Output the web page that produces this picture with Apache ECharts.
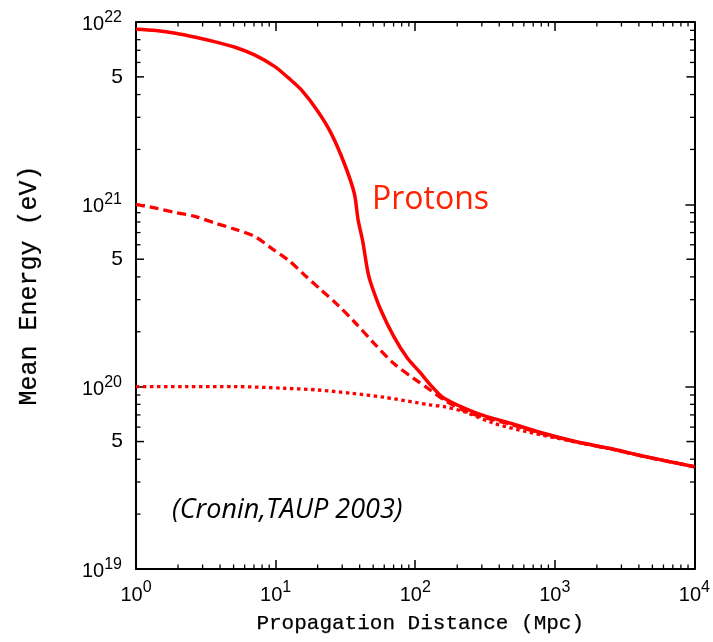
<!DOCTYPE html>
<html>
<head>
<meta charset="utf-8">
<script src="https://cdn.jsdelivr.net/npm/echarts@6/dist/echarts.min.js"></script>
<style>
  html, body { margin: 0; padding: 0; background: #fff; }
  #chart { width: 713px; height: 642px; }
</style>
</head>
<body>
<div id="chart"></div>
<script>
// Mean proton energy versus propagation distance, for three injection energies.
// Distances in Mpc, energies in eV.
const solidDist = [1, 1.39, 1.92, 2.67, 3.70, 5.13, 7.12, 9.88, 12.3, 15.3, 20.1, 25.0, 31.0, 36.6, 39.0, 41.9, 45.5, 48.1, 56.6, 70.3, 87.5, 109, 132, 161, 278, 480, 828, 1429, 2461, 4249, 10000];
const solidEnergy = [9.12e21, 8.97e21, 8.68e21, 8.25e21, 7.78e21, 7.27e21, 6.58e21, 5.69e21, 4.95e21, 4.24e21, 3.23e21, 2.45e21, 1.68e21, 1.15e21, 8.2e20, 6.38e20, 4.36e20, 3.69e20, 2.64e20, 1.88e20, 1.44e20, 1.19e20, 1.0e20, 8.63e19, 7.14e19, 6.30e19, 5.55e19, 4.99e19, 4.59e19, 4.17e19, 3.64e19];

const dashedDist = [1, 1.39, 1.92, 2.67, 3.70, 5.13, 7.12, 9.36, 12.3, 16.1, 21.2, 27.8, 36.6, 50.7, 70.3, 97.5, 128, 161, 249, 480, 828, 1429, 2461, 4249, 10000];
const dashedEnergy = [1.0e21, 9.52e20, 9.01e20, 8.57e20, 7.88e20, 7.30e20, 6.65e20, 5.74e20, 4.95e20, 4.10e20, 3.39e20, 2.81e20, 2.27e20, 1.73e20, 1.34e20, 1.11e20, 9.59e19, 8.45e19, 7.14e19, 6.22e19, 5.50e19, 4.97e19, 4.58e19, 4.16e19, 3.64e19];

const dottedDist = [1, 2.27, 5.13, 11.6, 20.1, 34.7, 59.7, 103, 128, 161, 224, 365, 630, 1429, 2461, 4249, 10000];
const dottedEnergy = [1.0e20, 1.0e20, 1.0e20, 9.8e19, 9.59e19, 9.2e19, 8.75e19, 8.17e19, 7.94e19, 7.77e19, 7.29e19, 6.30e19, 5.66e19, 4.96e19, 4.57e19, 4.16e19, 3.64e19];

// Axis ranges and the intermediate "5" labels on the energy axis
const xRange = [1, 1e4];
const yRange = [1e19, 1e22];
const yFiveLabels = [5e19, 5e20, 5e21];

// Minor tick positions (2..9 within every decade)
function minorTicks(lo, hi) {
  const out = [];
  for (let d = lo; d < hi; d *= 10) {
    for (let m = 2; m <= 9; m++) out.push(m * d);
  }
  return out;
}
const xMinor = minorTicks(xRange[0], xRange[1]);
const yMinor = minorTicks(yRange[0], yRange[1]);

const pair = (xs, ys) => xs.map((x, i) => [x, ys[i]]);

const RED = '#ff0000';
const TICK_FONT = '"Liberation Sans", Arial, sans-serif';
const TITLE_FONT = '"Liberation Mono", "Courier New", monospace';

const supLabel = {
  formatter: v => '{b|10}{s|' + Math.round(Math.log10(v)) + '}',
  rich: {
    b: { fontSize: 20, fontFamily: TICK_FONT, color: '#000', verticalAlign: 'bottom' },
    s: { fontSize: 16, fontFamily: TICK_FONT, color: '#000', verticalAlign: 'bottom', padding: [0, 0, 9, 0] }
  }
};

const frameLine = { show: true, lineStyle: { color: '#000', width: 2 } };
const majorTick = { show: true, inside: true, length: 9, lineStyle: { color: '#000', width: 1.5 } };

const chart = echarts.init(document.getElementById('chart'), null, { renderer: 'canvas' });

chart.setOption({
  animation: false,
  backgroundColor: '#fff',
  grid: { left: 136, right: 14, top: 22, bottom: 73 },
  xAxis: [
    {
      type: 'log', logBase: 10, min: xRange[0], max: xRange[1],
      position: 'bottom',
      axisLine: frameLine, axisTick: majorTick, splitLine: { show: false },
      axisLabel: Object.assign({ margin: 11 }, supLabel),
      name: 'Propagation Distance (Mpc)', nameLocation: 'middle', nameGap: 44,
      nameTextStyle: { fontFamily: TITLE_FONT, fontSize: 21, color: '#000', textBorderColor: '#000', textBorderWidth: 0.25, padding: [0, 0, 0, 10] }
    },
    {
      type: 'log', logBase: 10, min: xRange[0], max: xRange[1],
      position: 'top',
      axisLine: frameLine, axisTick: majorTick, splitLine: { show: false },
      axisLabel: { show: false }
    }
  ],
  yAxis: [
    {
      type: 'log', logBase: 10, min: yRange[0], max: yRange[1],
      position: 'left',
      axisLine: frameLine, axisTick: majorTick, splitLine: { show: false },
      axisLabel: Object.assign({ margin: 14 }, supLabel),
      name: 'Mean Energy (eV)', nameLocation: 'middle', nameGap: 94,
      nameTextStyle: { fontFamily: TITLE_FONT, fontSize: 25, color: '#000', textBorderColor: '#000', textBorderWidth: 0.25, padding: [0, 0, 0, 20] }
    },
    {
      type: 'log', logBase: 10, min: yRange[0], max: yRange[1],
      position: 'right',
      axisLine: frameLine, axisTick: majorTick, splitLine: { show: false },
      axisLabel: { show: false }
    }
  ],
  graphic: [
    {
      type: 'text', left: 372, top: 184, z: 10,
      style: { text: 'Protons', fill: '#ff2200', font: '32px "Open Sans", Lato, sans-serif' }
    },
    {
      type: 'text', left: 172, top: 497, z: 10,
      style: { text: '(Cronin,TAUP 2003)', fill: '#000', font: 'italic 27px "Open Sans", Lato, sans-serif' }
    }
  ],
  series: [
    {
      name: 'E0 1e22 eV', type: 'line', data: pair(solidDist, solidEnergy),
      showSymbol: false, smooth: 0.3, z: 5,
      lineStyle: { color: RED, width: 3.5 }
    },
    {
      name: 'E0 1e21 eV', type: 'line', data: pair(dashedDist, dashedEnergy),
      showSymbol: false, smooth: 0.3, z: 5,
      lineStyle: { color: RED, width: 3.3, type: [9, 5] }
    },
    {
      name: 'E0 1e20 eV', type: 'line', data: pair(dottedDist, dottedEnergy),
      showSymbol: false, smooth: 0.3, z: 5,
      lineStyle: { color: RED, width: 3.3, type: [3.5, 3.5] }
    },
    {
      // minor ticks on the bottom and top edges
      name: 'x minor ticks', type: 'custom', silent: true, z: 3,
      data: xMinor.map(v => [v, yRange[0]]),
      renderItem: (params, api) => {
        const cs = params.coordSys;
        const x = api.coord([api.value(0), yRange[0]])[0];
        const len = 4.5;
        const st = { stroke: '#000', lineWidth: 1.3 };
        return {
          type: 'group', children: [
            { type: 'line', shape: { x1: x, y1: cs.y + cs.height, x2: x, y2: cs.y + cs.height - len }, style: st },
            { type: 'line', shape: { x1: x, y1: cs.y, x2: x, y2: cs.y + len }, style: st }
          ]
        };
      }
    },
    {
      // minor ticks on the left and right edges, with "5" labels at mid-decade
      name: 'y minor ticks', type: 'custom', silent: true, z: 3,
      data: yMinor.map(v => [xRange[0], v]),
      renderItem: (params, api) => {
        const cs = params.coordSys;
        const v = api.value(1);
        const y = api.coord([xRange[0], v])[1];
        const isFive = yFiveLabels.some(f => Math.abs(f - v) / f < 1e-6);
        const len = isFive ? 8 : 4.5;
        const st = { stroke: '#000', lineWidth: isFive ? 1.5 : 1.3 };
        const children = [
          { type: 'line', shape: { x1: cs.x, y1: y, x2: cs.x + len, y2: y }, style: st },
          { type: 'line', shape: { x1: cs.x + cs.width, y1: y, x2: cs.x + cs.width - len, y2: y }, style: st }
        ];
        if (isFive) {
          children.push({
            type: 'text', x: cs.x - 13, y: y,
            style: { text: '5', fill: '#000', font: '21px ' + TICK_FONT, align: 'right', verticalAlign: 'middle' }
          });
        }
        return { type: 'group', children };
      }
    }
  ]
});
</script>
</body>
</html>
